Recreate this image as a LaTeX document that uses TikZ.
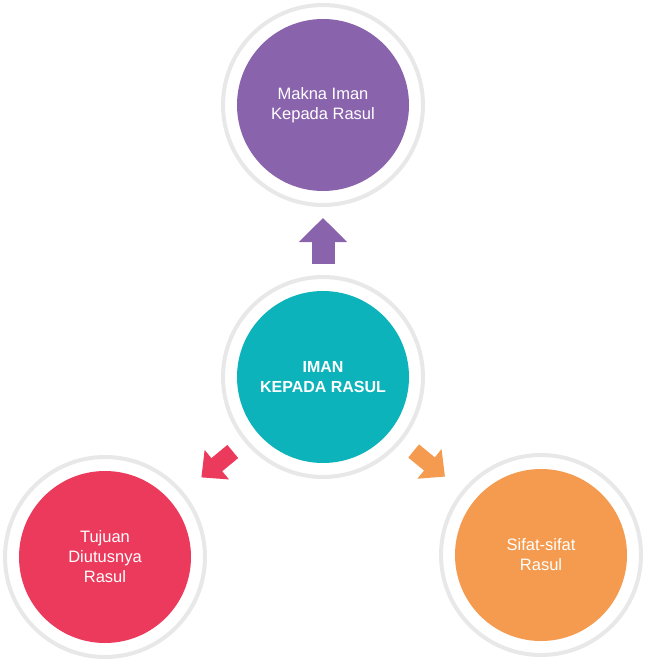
\documentclass[tikz,border=0pt]{standalone}
\usepackage{fontspec}
\setmainfont{Liberation Sans}
\usetikzlibrary{arrows.meta}
\definecolor{maknacol}{RGB}{138,99,173}
\definecolor{imancol}{RGB}{13,179,186}
\definecolor{tujuancol}{RGB}{235,58,92}
\definecolor{sifatcol}{RGB}{245,155,79}
\begin{document}
\begin{tikzpicture}[x=1pt, y=-1pt,
    ring/.style={circle, draw=black!9, line width=4pt, fill=white, minimum size=200pt, inner sep=0pt},
    main node/.style={circle, minimum size=172pt, inner sep=0pt, outer sep=0pt, text=white, align=center, font=\fontsize{16.5}{20}\selectfont},
    big arrow/.style={line width=23pt, -{Triangle[width=47pt, length=24pt]}},
    small arrow/.style={line width=17pt, -{Triangle[width=37pt, length=20pt]}}]

    \useasboundingbox (0,0) rectangle (647,660);

    % Rings
    \node[ring] (R1) at (323,105) {};
    \node[ring] (R2) at (323,377) {};
    \node[ring] (R3) at (105,557) {};
    \node[ring] (R4) at (541,555) {};

    % Circles
    \node[main node, fill=maknacol] (makna) at (323,105) {Makna Iman\\Kepada Rasul};
    \node[main node, fill=imancol, font=\bfseries\fontsize{16}{20}\selectfont] (iman) at (323,377) {IMAN\\KEPADA RASUL};
    \node[main node, fill=tujuancol] (tujuan) at (105,557) {Tujuan\\Diutusnya\\Rasul};
    \node[main node, fill=sifatcol] (sifat) at (541,555) {Sifat-sifat\\Rasul};

    % Arrows
    \draw[big arrow, maknacol, shorten <=27pt, shorten >=27pt] (iman) -- (makna);
    \draw[small arrow, tujuancol, shorten <=31pt, shorten >=39pt] (iman) -- (tujuan);
    \draw[small arrow, sifatcol, shorten <=31pt, shorten >=38pt] (iman) -- (sifat);

\end{tikzpicture}
\end{document}
